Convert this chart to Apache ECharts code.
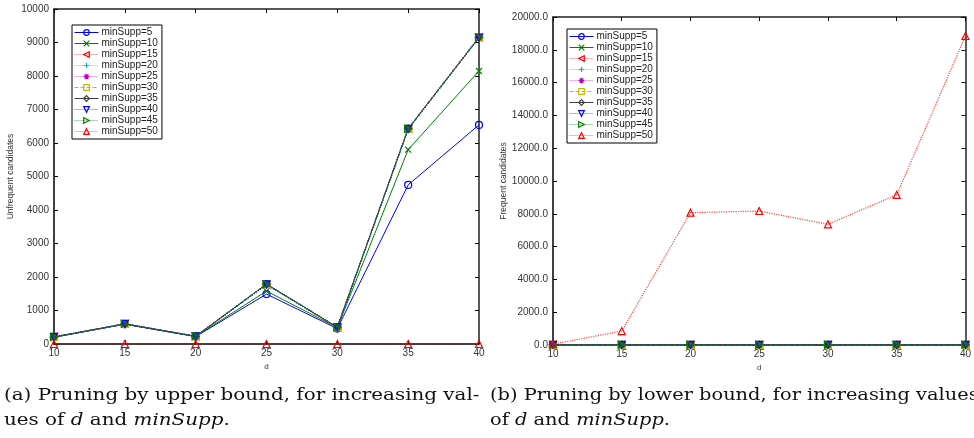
<!DOCTYPE html>
<html>
<head>
<meta charset="utf-8">
<script src="https://cdn.jsdelivr.net/npm/echarts@6/dist/echarts.min.js"></script>
<style>html,body{margin:0;padding:0;background:#fff}#c{width:974px;height:438px}</style>
</head>
<body>
<div id="c"></div>
<script>
// ---- data ----
const dValues = [10, 15, 20, 25, 30, 35, 40];
const seriesNames = ['minSupp=5','minSupp=10','minSupp=15','minSupp=20','minSupp=25','minSupp=30','minSupp=35','minSupp=40','minSupp=45','minSupp=50'];
// (a) unfrequent candidates
const upper5  = [200, 590, 220, 1490, 460, 4750, 6540];
const upper10 = [205, 595, 225, 1580, 490, 5800, 8150];
const upper15 = [210, 600, 230, 1780, 500, 6420, 9150];
const upper20 = [210, 600, 230, 1780, 500, 6420, 9150];
const upper25 = [210, 600, 230, 1780, 500, 6420, 9150];
const upper30 = [210, 600, 230, 1780, 500, 6420, 9150];
const upper35 = [210, 600, 230, 1790, 500, 6430, 9150];
const upper40 = [210, 600, 230, 1780, 500, 6420, 9150];
const upper45 = [210, 600, 230, 1780, 500, 6420, 9150];
const upper50 = [0, 0, 0, 0, 0, 0, 0];
// (b) frequent candidates
const lower5  = [10, 10, 10, 10, 10, 10, 10];
const lower10 = [10, 10, 10, 10, 10, 10, 10];
const lower15 = [10, 10, 10, 10, 10, 10, 10];
const lower20 = [10, 10, 10, 10, 10, 10, 10];
const lower25 = [10, 10, 10, 10, 10, 10, 10];
const lower30 = [10, 10, 10, 10, 10, 10, 10];
const lower35 = [10, 10, 10, 10, 10, 10, 10];
const lower40 = [10, 10, 10, 10, 10, 10, 10];
const lower45 = [10, 10, 10, 10, 10, 10, 10];
const lower50 = [50, 850, 8070, 8170, 7360, 9160, 18840];
const upperTicks = [0, 10000, 1000];
const lowerTicks = [0, 20000, 2000];

const upperData = [upper5, upper10, upper15, upper20, upper25, upper30, upper35, upper40, upper45, upper50];
const lowerData = [lower5, lower10, lower15, lower20, lower25, lower30, lower35, lower40, lower45, lower50];

// ---- styles ----
const styles = [
  {c:'#0000ff', t:'solid',  s:'circle', r:0, sz:7},
  {c:'#008000', t:'solid',  s:'path://M0,0L10,10M10,0L0,10', r:0, sz:6},
  {c:'#ff0000', t:'dotted', s:'triangle', r:90, sz:7},
  {c:'#00bfbf', t:'dotted', s:'path://M5,0L5,10M0,5L10,5', r:0, sz:7},
  {c:'#bf00bf', t:'dotted', s:'path://M5,0L5,10M0,5L10,5M1.5,1.5L8.5,8.5M8.5,1.5L1.5,8.5', r:0, sz:7},
  {c:'#bfbf00', t:'dashed', s:'rect', r:0, sz:7},
  {c:'#404040', t:'solid',  s:'diamond', r:0, sz:7},
  {c:'#0000ff', t:'dotted', s:'triangle', r:180, sz:7},
  {c:'#008000', t:'dotted', s:'triangle', r:-90, sz:7},
  {c:'#ff0000', t:'dotted', s:'triangle', r:0, sz:7}
];

function mk(dataArr, xi, yi) {
  return seriesNames.map((n, i) => {
    const st = styles[i];
    return {
      name: n, type: 'line', xAxisIndex: xi, yAxisIndex: yi,
      data: dValues.map((d, k) => [d, dataArr[i][k]]),
      symbol: st.s, symbolRotate: st.r, symbolSize: st.sz,
      showAllSymbol: true, animation: false, z: 3 + i,
      lineStyle: {color: st.c, width: (st.t === 'dotted' ? 1.2 : 1), type: st.t, opacity: st.t === 'dotted' ? 0.75 : 1},
      itemStyle: {color: 'rgba(255,255,255,0)', borderColor: st.c, borderWidth: 1.2},
      emphasis: {disabled: true}
    };
  });
}

const font = 'Liberation Sans, Arial, sans-serif';
const lblStyle = {fontSize: 10, color: '#333', fontFamily: font};

function axesFor(gi, ticks, fmt, yName) {
  const xs = [
    {type:'value', gridIndex: gi, min: 10, max: 40, interval: 5, position:'bottom',
     name:'d', nameLocation:'middle', nameGap: 17, nameTextStyle:{fontSize: 8, color:'#333', fontFamily: font},
     axisLine:{onZero:false, lineStyle:{color:'#000', width:1.5}},
     axisTick:{inside:true, length:4, lineStyle:{color:'#000'}},
     axisLabel:Object.assign({margin:4, showMinLabel:true, showMaxLabel:true}, lblStyle), splitLine:{show:false}},
    {type:'value', gridIndex: gi, min: 10, max: 40, interval: 5, position:'top',
     axisLine:{onZero:false, lineStyle:{color:'#222', width:1.5}},
     axisTick:{inside:true, length:4, lineStyle:{color:'#000'}},
     axisLabel:{show:false}, splitLine:{show:false}}
  ];
  const ys = [
    {type:'value', gridIndex: gi, min: ticks[0], max: ticks[1], interval: ticks[2], position:'left',
     name: yName, nameLocation:'middle', nameGap: fmt ? 45 : 39, nameTextStyle:{fontSize: 8.5, color:'#333', fontFamily: font},
     axisLine:{onZero:false, lineStyle:{color:'#000', width:1.5}},
     axisTick:{inside:true, length:4, lineStyle:{color:'#000'}},
     axisLabel:Object.assign({margin:5, formatter: fmt ? (v => v.toFixed(1)) : (v => String(v))}, lblStyle), splitLine:{show:false}},
    {type:'value', gridIndex: gi, min: ticks[0], max: ticks[1], interval: ticks[2], position:'right',
     axisLine:{onZero:false, lineStyle:{color:'#222', width:1.5}},
     axisTick:{inside:true, length:4, lineStyle:{color:'#000'}},
     axisLabel:{show:false}, splitLine:{show:false}}
  ];
  return {xs, ys};
}

const a = axesFor(0, upperTicks, false, 'Unfrequent candidates');
const b = axesFor(1, lowerTicks, true, 'Frequent candidates');

function legendAt(left, top) {
  return {
    show: true, orient:'vertical', left: left, top: top, selectedMode: false,
    data: seriesNames.map((n, i) => ({
      name: n,
      itemStyle: {color: 'rgba(255,255,255,0)', borderColor: styles[i].c, borderWidth: 1.2},
      lineStyle: {color: styles[i].c, width: 1, type: styles[i].t, opacity: styles[i].t === 'dotted' ? 0.6 : 1}
    })),
    itemWidth: 24, itemHeight: 7, itemGap: 0,
    padding: [2, 4, 2, 2], borderColor: '#000', borderWidth: 1, backgroundColor: '#fff',
    textStyle: {fontSize: 10, color: '#222', fontFamily: font, lineHeight: 11, padding: [0,0,0,-2]}
  };
}

const chart = echarts.init(document.getElementById('c'), null, {renderer:'canvas'});
const rich = {
  n:{fontFamily:'DejaVu Serif', fontSize:17, lineHeight:25, fill:'#111'},
  i:{fontFamily:'DejaVu Serif', fontStyle:'italic', fontSize:17, lineHeight:25, fill:'#111'}
};
chart.setOption({
  animation: false,
  backgroundColor: '#fff',
  grid: [
    {left: 54, right: 495, top: 9, bottom: 94},
    {left: 553, right: 6, top: 17, bottom: 93}
  ],
  legend: [legendAt(72, 25), legendAt(567, 29)],
  xAxis: a.xs.concat(b.xs),
  yAxis: a.ys.concat(b.ys),
  series: mk(upperData, 0, 0).concat(mk(lowerData, 2, 2)),
  graphic: [
    {type:'text', x: 4, y: 383, scaleX: 1.17, style:{
      text:'{n|(a) Pruning by upper bound, for increasing val-}\n{n|ues of }{i|d}{n| and }{i|minSupp}{n|.}', rich: rich}},
    {type:'text', x: 490, y: 383, scaleX: 1.14, style:{
      text:'{n|(b) Pruning by lower bound, for increasing values}\n{n|of }{i|d}{n| and }{i|minSupp}{n|.}', rich: rich}}
  ]
});
</script>
</body>
</html>
